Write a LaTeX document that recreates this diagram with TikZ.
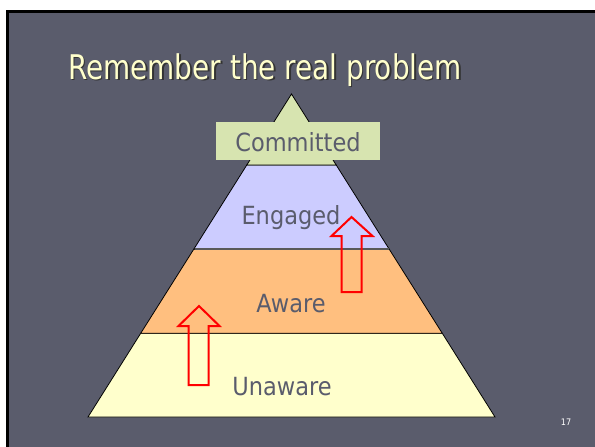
\documentclass[tikz,border=0pt]{standalone}
\usepackage{fontspec}
\setmainfont{DejaVu Sans}[FakeStretch=0.9]
\newfontfamily\titlefont{DejaVu Sans}[FakeStretch=0.82]
\definecolor{slidebg}{HTML}{5A5C6C}
\definecolor{titlecol}{HTML}{FFFFCC}
\definecolor{commitcol}{HTML}{D7E4B0}
\definecolor{engagecol}{HTML}{CCCCFF}
\definecolor{awarecol}{HTML}{FFBF7F}
\definecolor{unawarecol}{HTML}{FFFFCC}
\definecolor{labelcol}{HTML}{5A5C6C}
\tikzset{
  layer/.style={draw=black, line width=0.8pt},
  lbl/.style={text=labelcol, font=\fontsize{25}{28}\selectfont, inner sep=0pt, anchor=base},
  titletext/.style={anchor=base, font=\titlefont\fontsize{34}{38}\selectfont, inner sep=0pt},
  blockarrow/.style={draw=red, line width=2pt, line join=miter},
}
\begin{document}
\begin{tikzpicture}[x=1pt,y=-1pt]
\useasboundingbox (0,0) rectangle (595,447);
\fill[white] (0,0) rectangle (595,447);
\fill[slidebg] (6,10) rectangle (595,447);
\draw[black, line width=3pt] (7.5,447) -- (7.5,11.5) -- (595,11.5);
% title
\node[titletext, text=black!80] (titleshadow) at (266.5,80.5) {Remember the real problem};
\node[titletext, text=titlecol] (title) at (265,79) {Remember the real problem};
% pyramid layers
\coordinate (apex) at (291.5,94);
\filldraw[layer, fill=unawarecol] (140.7,333.3) -- (442.3,333.3) -- (495,417) -- (88,417) -- cycle;
\filldraw[layer, fill=awarecol] (193.7,249.3) -- (389.3,249.3) -- (442.3,333.3) -- (140.7,333.3) -- cycle;
\filldraw[layer, fill=engagecol] (246.8,165) -- (336.2,165) -- (389.3,249.3) -- (193.7,249.3) -- cycle;
\draw[black!65, line width=2pt] (194.5,249.3) -- (388.5,249.3);
\filldraw[layer, fill=commitcol] (apex) -- (336.2,165) -- (246.8,165) -- cycle;
\fill[commitcol] (216,122) rectangle (380,160);
% labels
\node[lbl] (committed) at (298,151) {Committed};
\node[lbl] (engaged) at (291,224) {Engaged};
\node[lbl] (aware) at (291,312) {Aware};
\node[lbl] (unaware) at (282,395) {Unaware};
% block arrows
\draw[blockarrow] (188.5,385) -- (188.5,326) -- (178.5,326) -- (199,306) -- (219.5,326) -- (208.5,326) -- (208.5,385) -- cycle;
\draw[blockarrow] (341.5,292) -- (341.5,236) -- (331.5,236) -- (351.5,217) -- (372.5,236) -- (361.5,236) -- (361.5,292) -- cycle;
% page number
\node[text=white, font=\fontsize{9}{10}\selectfont, inner sep=0pt] (pagenum) at (566,422) {17};
\end{tikzpicture}
\end{document}
